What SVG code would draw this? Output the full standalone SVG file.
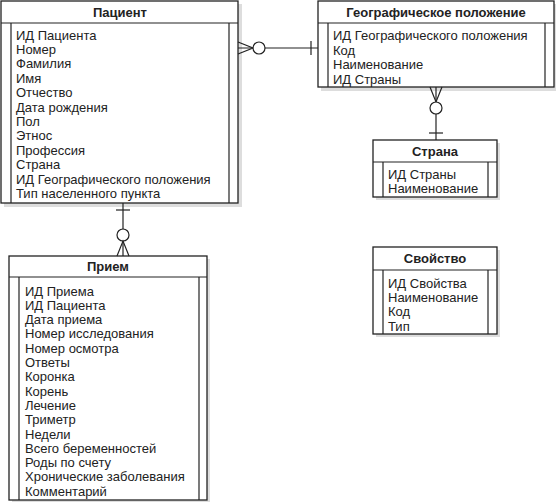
<svg xmlns="http://www.w3.org/2000/svg" width="556" height="502" viewBox="0 0 556 502">
<defs>
<style>
.box{fill:#fff;stroke:#222;stroke-width:1.3}
.sh{fill:#ddd}
.ln{stroke:#222;stroke-width:1.2;fill:none}
.t{font-family:"Liberation Sans",Arial,sans-serif;font-size:13px;fill:#222}
.h{font-family:"Liberation Sans",Arial,sans-serif;font-size:13px;font-weight:bold;fill:#222;text-anchor:middle}
.c{fill:#fff;stroke:#222;stroke-width:1.2}
</style>
</defs>
<rect width="556" height="502" fill="#fff"/>
<g id="patient">
<rect class="sh" x="4" y="4" width="238" height="203"/>
<rect class="box" x="1" y="1" width="237" height="202"/>
<line class="ln" x1="1" y1="23" x2="238" y2="23"/>
<line class="ln" x1="11" y1="23" x2="11" y2="203"/>
<line class="ln" x1="229" y1="23" x2="229" y2="203"/>
<text class="h" x="120" y="16.5">Пациент</text>
<text class="t" x="16" y="39.5">ИД Пациента</text>
<text class="t" x="16" y="53.9">Номер</text>
<text class="t" x="16" y="68.3">Фамилия</text>
<text class="t" x="16" y="82.7">Имя</text>
<text class="t" x="16" y="97.1">Отчество</text>
<text class="t" x="16" y="111.5">Дата рождения</text>
<text class="t" x="16" y="125.9">Пол</text>
<text class="t" x="16" y="140.3">Этнос</text>
<text class="t" x="16" y="154.7">Профессия</text>
<text class="t" x="16" y="169.1">Страна</text>
<text class="t" x="16" y="183.5">ИД Географического положения</text>
<text class="t" x="16" y="197.9">Тип населенного пункта</text>
</g>
<g id="geo">
<rect class="sh" x="321" y="4" width="235" height="87"/>
<rect class="box" x="318" y="1" width="236" height="86"/>
<line class="ln" x1="318" y1="23" x2="554" y2="23"/>
<line class="ln" x1="328" y1="23" x2="328" y2="87"/>
<line class="ln" x1="545" y1="23" x2="545" y2="87"/>
<text class="h" x="436" y="16.5">Географическое положение</text>
<text class="t" x="333" y="39.5">ИД Географического положения</text>
<text class="t" x="333" y="54.5">Код</text>
<text class="t" x="333" y="68.5">Наименование</text>
<text class="t" x="333" y="83.5">ИД Страны</text>
</g>
<g id="country">
<rect class="sh" x="376" y="143" width="124" height="57"/>
<rect class="box" x="373" y="140" width="124" height="57"/>
<line class="ln" x1="373" y1="162" x2="497" y2="162"/>
<line class="ln" x1="383" y1="162" x2="383" y2="197"/>
<line class="ln" x1="488" y1="162" x2="488" y2="197"/>
<text class="h" x="435" y="155.5">Страна</text>
<text class="t" x="388" y="178.5">ИД Страны</text>
<text class="t" x="388" y="192.5">Наименование</text>
</g>
<g id="property">
<rect class="sh" x="376" y="250" width="124" height="87"/>
<rect class="box" x="373" y="247" width="124" height="87"/>
<line class="ln" x1="373" y1="270" x2="497" y2="270"/>
<line class="ln" x1="383" y1="270" x2="383" y2="334"/>
<line class="ln" x1="488" y1="270" x2="488" y2="334"/>
<text class="h" x="435" y="262.5">Свойство</text>
<text class="t" x="388" y="287.5">ИД Свойства</text>
<text class="t" x="388" y="301.5">Наименование</text>
<text class="t" x="388" y="315.5">Код</text>
<text class="t" x="388" y="330.5">Тип</text>
</g>
<g id="visit">
<rect class="sh" x="12" y="259" width="198" height="243"/>
<rect class="box" x="9" y="256" width="198" height="244"/>
<line class="ln" x1="9" y1="277" x2="207" y2="277"/>
<line class="ln" x1="19" y1="277" x2="19" y2="500"/>
<line class="ln" x1="199" y1="277" x2="199" y2="500"/>
<text class="h" x="108" y="270.5">Прием</text>
<text class="t" x="25" y="295.5">ИД Приема</text>
<text class="t" x="25" y="309.8">ИД Пациента</text>
<text class="t" x="25" y="324.1">Дата приема</text>
<text class="t" x="25" y="338.4">Номер исследования</text>
<text class="t" x="25" y="352.7">Номер осмотра</text>
<text class="t" x="25" y="367">Ответы</text>
<text class="t" x="25" y="381.3">Коронка</text>
<text class="t" x="25" y="395.6">Корень</text>
<text class="t" x="25" y="409.9">Лечение</text>
<text class="t" x="25" y="424.2">Триметр</text>
<text class="t" x="25" y="438.5">Недели</text>
<text class="t" x="25" y="452.8">Всего беременностей</text>
<text class="t" x="25" y="467.1">Роды по счету</text>
<text class="t" x="25" y="481.4">Хронические заболевания</text>
<text class="t" x="25" y="495.7">Комментарий</text>
</g>
<g id="connectors">
<!-- Patient - Geo -->
<line class="ln" x1="238" y1="48" x2="318" y2="48"/>
<polyline class="ln" points="238,42 253,48 238,54"/>
<circle class="c" cx="259" cy="48" r="6"/>
<line class="ln" x1="311" y1="41" x2="311" y2="55"/>
<!-- Geo - Country -->
<line class="ln" x1="436" y1="87" x2="436" y2="140"/>
<polyline class="ln" points="430,87 436,102 442,87"/>
<circle class="c" cx="436" cy="108" r="6"/>
<line class="ln" x1="429" y1="133" x2="443" y2="133"/>
<!-- Patient - Visit -->
<line class="ln" x1="123" y1="203" x2="123" y2="256"/>
<line class="ln" x1="116" y1="210" x2="130" y2="210"/>
<circle class="c" cx="123" cy="235" r="6"/>
<polyline class="ln" points="117,256 123,241 129,256"/>
</g>
</svg>
